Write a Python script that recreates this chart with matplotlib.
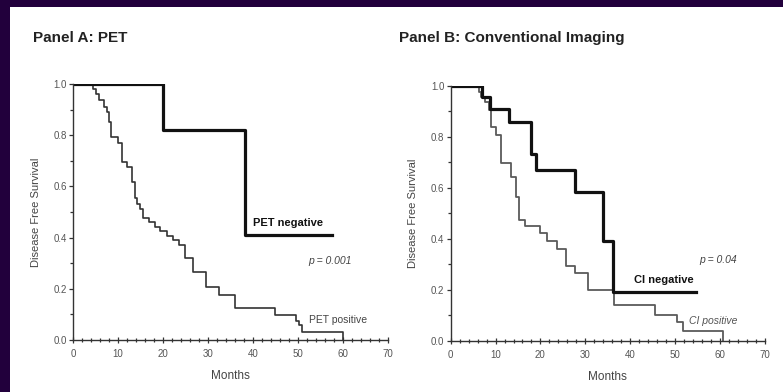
import matplotlib
matplotlib.use("Agg")
import matplotlib.pyplot as plt
from matplotlib.patches import Rectangle
from matplotlib.ticker import MultipleLocator, FormatStrFormatter

plt.rcParams['font.family'] = ['Liberation Sans', 'DejaVu Sans']

# Panel A: PET (months, survival after each drop)
pet_neg_t = [0, 20.0, 38.3, 57.6]
pet_neg_s = [1.0, 0.82, 0.41, 0.41]
pet_pos_t = [0, 4.5, 5.2, 5.8, 6.9, 7.6, 8.0, 8.5, 9.9, 10.8, 12.1, 13.0, 13.7, 14.3,
             14.8, 15.6, 16.8, 18.3, 19.4, 20.8, 22.3, 23.5, 24.9, 26.7, 29.6, 32.4,
             36.1, 44.8, 49.6, 50.2, 50.9, 60.0]
pet_pos_s = [1.0, 0.98, 0.96, 0.937, 0.911, 0.89, 0.853, 0.794, 0.768, 0.697, 0.677, 0.618,
             0.553, 0.53, 0.51, 0.478, 0.46, 0.443, 0.424, 0.405, 0.39, 0.371, 0.319, 0.267,
             0.208, 0.176, 0.124, 0.098, 0.075, 0.06, 0.033, 0.0]

# Panel B: Conventional imaging
ci_neg_t = [0, 6.9, 8.7, 13.0, 18.0, 19.0, 27.8, 34.0, 36.1, 54.7]
ci_neg_s = [1.0, 0.958, 0.908, 0.86, 0.733, 0.67, 0.582, 0.39, 0.192, 0.192]
ci_pos_t = [0, 6.4, 6.8, 7.6, 8.5, 9.0, 10.2, 11.3, 13.5, 14.6, 15.3, 16.5, 19.8, 21.4,
            23.6, 25.6, 27.7, 30.5, 36.4, 45.5, 50.5, 51.7, 60.6]
ci_pos_s = [1.0, 0.975, 0.958, 0.938, 0.906, 0.84, 0.808, 0.696, 0.644, 0.565, 0.474, 0.45,
            0.421, 0.393, 0.36, 0.295, 0.264, 0.199, 0.14, 0.10, 0.072, 0.037, 0.0]

fig = plt.figure(figsize=(7.83, 3.92), dpi=100, facecolor='#22003c')
fig.patches.append(Rectangle((10 / 783, 0), 1, 385 / 392, transform=fig.transFigure,
                             facecolor='white', edgecolor='none', zorder=-10))


def style_axes(ax):
    ax.set_xlim(0, 70)
    ax.set_ylim(0, 1.0)
    ax.spines['top'].set_visible(False)
    ax.spines['right'].set_visible(False)
    for s in ('left', 'bottom'):
        ax.spines[s].set_linewidth(1.0)
        ax.spines[s].set_color('#333333')
    ax.xaxis.set_major_locator(MultipleLocator(10))
    ax.xaxis.set_minor_locator(MultipleLocator(2))
    ax.yaxis.set_major_locator(MultipleLocator(0.2))
    ax.yaxis.set_minor_locator(MultipleLocator(0.1))
    ax.tick_params(axis='x', which='both', direction='inout', length=5, width=0.9,
                   color='#333333', labelsize=7, labelcolor='#555555', pad=4)
    ax.tick_params(axis='x', which='minor', length=3.5)
    ax.tick_params(axis='y', which='major', direction='out', length=3, width=0.9,
                   color='#333333', labelsize=7, labelcolor='#555555', pad=1.5)
    ax.tick_params(axis='y', which='minor', direction='out', length=2, width=0.9, color='#333333')
    ax.yaxis.set_major_formatter(FormatStrFormatter('%.1f'))
    ax.set_xlabel('Months', fontsize=8.5, color='#444444', labelpad=8)
    ax.set_ylabel('Disease Free Survival', fontsize=8, color='#444444', labelpad=9)
    ax.patch.set_alpha(0)


axA = fig.add_axes([73 / 783, 52 / 392, 315 / 783, 256 / 392])
axA.step(pet_pos_t, pet_pos_s, where='post', color='#333333', lw=1.2)
axA.step(pet_neg_t, pet_neg_s, where='post', color='#111111', lw=2.3)
style_axes(axA)
axA.text(40, 0.457, 'PET negative', fontsize=8, fontweight='bold', color='#111111', va='center')
axA.text(52.3, 0.31, 'p = 0.001', fontsize=7.5, style='italic', color='#444444', va='center')
axA.text(52.5, 0.078, 'PET positive', fontsize=7.5, color='#444444', va='center')

axB = fig.add_axes([450.7 / 783, 51.3 / 392, 314 / 783, 254.7 / 392])
axB.step(ci_pos_t, ci_pos_s, where='post', color='#5a5a5a', lw=1.3)
axB.step(ci_neg_t, ci_neg_s, where='post', color='#111111', lw=2.3)
style_axes(axB)
axB.text(40.8, 0.238, 'CI negative', fontsize=8, fontweight='bold', color='#111111', va='center')
axB.text(55.4, 0.317, 'p = 0.04', fontsize=7.5, style='italic', color='#444444', va='center')
axB.text(53.2, 0.079, 'CI positive', fontsize=7.5, style='italic', color='#555555', va='center')

fig.text(33 / 783, 1 - 38 / 392, 'Panel A: PET', fontsize=11, fontweight='bold',
         color='#222222', va='center')
fig.text(399 / 783, 1 - 38 / 392, 'Panel B: Conventional Imaging', fontsize=11,
         fontweight='bold', color='#222222', va='center')

fig.savefig('out.png', dpi=100, facecolor=fig.get_facecolor())
